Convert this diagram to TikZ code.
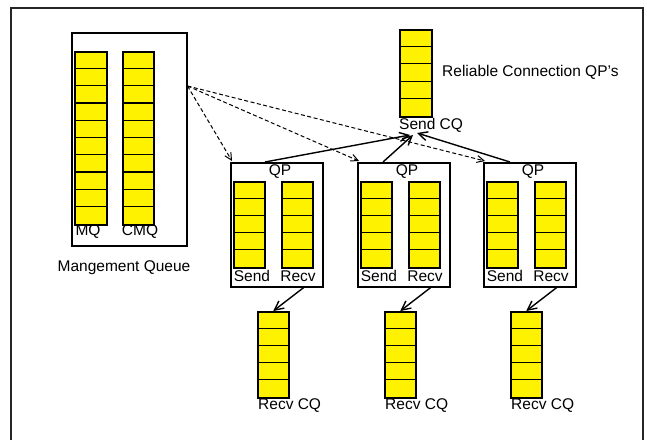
\documentclass[tikz,border=0pt]{standalone}
\usepackage{fontspec}
\setmainfont{Liberation Sans}
\usetikzlibrary{arrows.meta}

\tikzset{
  frame/.style={draw=black!85, line width=1.5pt},
  holder/.style={draw=black, line width=1.5pt, fill=white, inner sep=0pt},
  slotcol/.style={draw=black, line width=1.5pt, fill=yellow, inner sep=0pt},
  slotline/.style={draw=black, line width=1.3pt},
  lbl/.style={font=\fontsize{15.5}{18}\selectfont, inner sep=0pt},
  notify/.style={line width=1.4pt, -{Straight Barb[length=9pt,width=9pt,line width=1.4pt]}},
  request/.style={line width=1pt, dash pattern=on 4pt off 2.5pt,
                  -{Straight Barb[length=7pt,width=7pt,line width=1pt]}},
}

% a yellow queue column split into equal slots: name, left, top, right, bottom, slots
\newcommand\slotqueue[6]{%
  \node[slotcol, anchor=north west,
        minimum width={((#4)-(#2))*1pt}, minimum height={((#5)-(#3))*1pt}] (#1) at (#2,#3) {};
  \pgfmathsetmacro\slotstep{((#5)-(#3))/(#6)}
  \pgfmathtruncatemacro\lastslot{(#6)-1}
  \foreach \k in {1,...,\lastslot}{
    \pgfmathsetmacro\yy{(#3)+\k*\slotstep}
    \draw[slotline] (#2,\yy) -- (#4,\yy);
  }
}

% a queue pair box with its send and receive queues: index, left edge
\newcommand\qpunit[2]{%
  \node[holder, anchor=north west, minimum width=92pt, minimum height=124pt] (qp#1) at (#2,162) {};
  \node[lbl] (qp#1-title) at (#2+50,172) {QP};
  \slotqueue{qp#1-send}{#2+3}{181}{#2+34}{267}{5}
  \slotqueue{qp#1-recv}{#2+51}{181}{#2+82}{267}{5}
  \node[lbl] (qp#1-sendlbl) at (#2+22,276) {Send};
  \node[lbl] (qp#1-recvlbl) at (#2+68,276) {Recv};
  \slotqueue{rcq#1}{#2+27}{311}{#2+58}{397}{5}
  \node[lbl, anchor=west] (rcq#1-lbl) at (#2+28,406) {Recv CQ};
}

\begin{document}
\begin{tikzpicture}[x=1pt,y=-1pt]
\useasboundingbox (0,0) rectangle (647,439);
\clip (0,0) rectangle (647,439);

% outer frame (runs past the lower edge)
\draw[frame] (11,8) rectangle (643,470);

% management queue
\node[holder, anchor=north west, minimum width=115pt, minimum height=213pt] (mgmt) at (71,32) {};
\slotqueue{mq}{74}{51}{106}{224}{10}
\slotqueue{cmq}{122}{51}{153}{224}{10}
\node[lbl] (mq-lbl) at (88,232) {MQ};
\node[lbl] (cmq-lbl) at (140,232) {CMQ};
\node[lbl] (mgmt-lbl) at (124,268) {Mangement Queue};

% shared send completion queue
\slotqueue{scq}{399}{29}{431}{116}{5}
\node[lbl, anchor=west] (scq-lbl) at (399,125) {Send CQ};
\node[lbl, anchor=west] (rc-lbl) at (442,72) {Reliable Connection QP's};

% reliable connection queue pairs
\qpunit{1}{230}
\qpunit{2}{357}
\qpunit{3}{483}

% completions flowing into the shared send CQ
\coordinate (tip1) at (410,135);
\coordinate (tip2) at (413,135);
\coordinate (tip3) at (417,133);
\draw[notify] ([xshift=35pt]qp1.north west) -- (tip1);
\draw[notify] ([xshift=26pt]qp2.north west) -- (tip2);
\draw[notify] ([xshift=27pt]qp3.north west) -- (tip3);

% completions flowing into each receive CQ
\foreach \i in {1,2,3}{
  \draw[notify] ([xshift=27pt]qp\i.south) -- (rcq\i.north);
}

% management requests to each queue pair
\foreach \i in {1,2,3}{
  \draw[request] ([yshift=-54pt]mgmt.north east) -- ([xshift=2pt,yshift=1pt]qp\i.north west);
}
\end{tikzpicture}
\end{document}
